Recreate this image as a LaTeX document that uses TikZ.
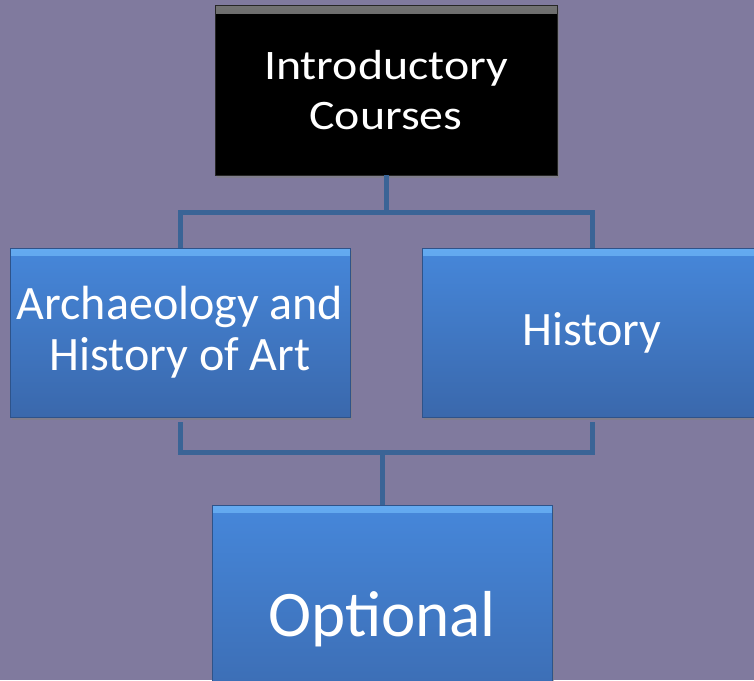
\documentclass[tikz,border=0pt]{standalone}
\usepackage{fontspec}
\setmainfont{Carlito}
\newfontfamily\widefont[FakeStretch=1.14]{Carlito}
\usepackage{tikz}
\usetikzlibrary{shadows}

\definecolor{backdrop}{RGB}{128,122,158}
\definecolor{linkblue}{RGB}{58,100,150}
\definecolor{boxtop}{RGB}{70,135,218}
\definecolor{boxbottom}{RGB}{58,104,172}
\definecolor{boxshine}{RGB}{100,170,240}

\begin{document}
\begin{tikzpicture}[x=1pt,y=-1pt]
          \tikzstyle{course} = [rectangle, minimum width=340pt, minimum height=169pt, align=center, text=white,
                                 top color=boxtop, bottom color=boxbottom, draw=boxbottom!80!black, line width=0.6pt,
                                 drop shadow={shadow xshift=2pt, shadow yshift=-3pt, opacity=.55},
                                 font=\fontsize{48}{51}\selectfont,
                                 path picture={\shade[top color=boxshine, bottom color=boxtop]
                                   (path picture bounding box.north west) rectangle ([yshift=-7pt]path picture bounding box.north east);}]
          \tikzstyle{root} = [course, minimum width=342pt, minimum height=170pt, top color=black, bottom color=black,
                               draw=black!85, font=\widefont\fontsize{42}{50}\selectfont,
                               path picture={\shade[top color=black!55, bottom color=black]
                                 (path picture bounding box.north west) rectangle ([yshift=-8pt]path picture bounding box.north east);}]
          \tikzstyle{link} = [draw=linkblue, line width=5pt]
        \useasboundingbox (0,0) rectangle (754,680);
        \clip (0,0) rectangle (754,680);
        \fill[backdrop] (0,0) rectangle (754,680);
        \node[root] (intro) at (386,90) {Introductory\\Courses};
        \node[course] (arch) at (180,332.5) {Archaeology and\\History of Art};
        \node[course] (hist) at (592,332.5) {History};
        \node[course, minimum height=228pt, font=\fontsize{65}{70}\selectfont] (opt) at (382,619) {Optional};
        \coordinate (upbar) at (386,212);
        \coordinate (lowbar) at (382,452);
        \begin{scope}
          \draw[link] (intro.south) -- (upbar);
          \draw[link] (arch.north) |- (upbar) -| (hist.north);
          \draw[link] ([yshift=-5pt]arch.south) |- (lowbar) -| ([yshift=-5pt]hist.south);
          \draw[link] (lowbar) -- (opt.north);
        \end{scope}
      \end{tikzpicture}
\end{document}
